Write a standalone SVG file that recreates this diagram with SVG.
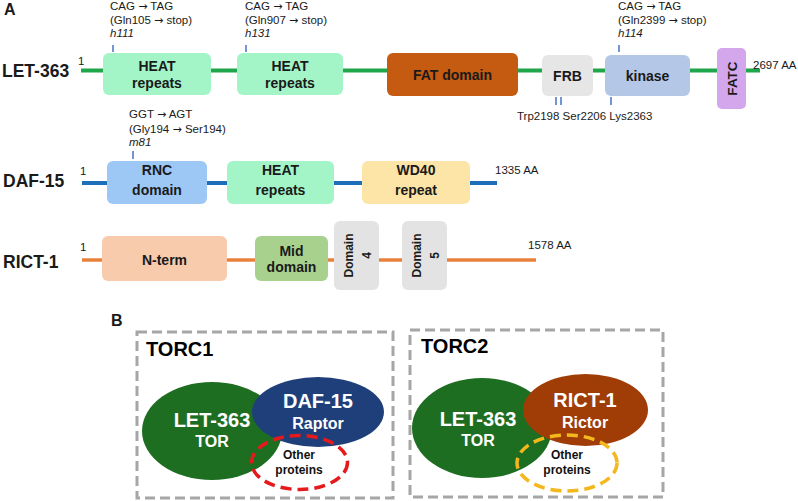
<svg xmlns="http://www.w3.org/2000/svg" width="798" height="501" viewBox="0 0 798 501">
<style>
text{font-family:"Liberation Sans",Arial,Helvetica,sans-serif;fill:#1a1a1a}
.lbl{font-size:17.5px;font-weight:bold}
.sm{font-size:11.5px}
.it{font-style:italic}
.ar{font-family:"DejaVu Sans",sans-serif;font-size:11px}
.dom{font-size:14px;font-weight:bold;text-anchor:middle}
.rot{font-size:12px;font-weight:bold;text-anchor:middle}
.tick{stroke:#4472c4;stroke-width:1.5}
.wt{fill:#fff;font-weight:bold;text-anchor:middle}
.oth{font-size:12px;font-weight:bold;text-anchor:middle;fill:#111}
.box{fill:none;stroke:#a6a6a6;stroke-width:3;stroke-dasharray:10 5}
</style>
<rect width="798" height="501" fill="#fff"/>
<text x="4" y="15" style="font-size:16px;font-weight:bold">A</text>
<text x="111" y="326" style="font-size:16px;font-weight:bold">B</text>

<g id="connectors">
<line x1="81" y1="70.5" x2="760" y2="70.5" stroke="#1fa64a" stroke-width="4"/>
<line x1="82" y1="183" x2="497" y2="183" stroke="#1e6fba" stroke-width="4"/>
<line x1="82" y1="260" x2="536" y2="260" stroke="#e8823b" stroke-width="3.5"/>
</g>

<g id="let363">
<text class="lbl" x="2" y="77">LET-363</text>
<text class="sm" x="78" y="65">1</text>
<text class="sm" x="753" y="69">2697 AA</text>
<rect x="103" y="53" width="108" height="42" rx="6" fill="#a3f5c8"/>
<text class="dom" x="157" y="70.5">HEAT</text><text class="dom" x="157" y="87.5">repeats</text>
<rect x="237" y="53" width="106" height="42" rx="6" fill="#a3f5c8"/>
<text class="dom" x="290" y="70.5">HEAT</text><text class="dom" x="290" y="87.5">repeats</text>
<rect x="387" y="53" width="131" height="43" rx="6" fill="#c55a11"/>
<text class="dom" x="452.5" y="80">FAT domain</text>
<rect x="542" y="55" width="51" height="41" rx="6" fill="#e6e6e6"/>
<text class="dom" x="567.5" y="81">FRB</text>
<rect x="605" y="55" width="85" height="41" rx="6" fill="#b4c7e7"/>
<text class="dom" x="647.5" y="81">kinase</text>
<rect x="717" y="48" width="29" height="61" rx="5" fill="#d4a6ec"/>
<text class="dom" transform="translate(731.5,78.5) rotate(-90)" x="0" y="5" style="font-size:13.5px">FATC</text>
<line class="tick" x1="113" y1="45" x2="113" y2="52"/>
<line class="tick" x1="246" y1="45" x2="246" y2="52"/>
<line class="tick" x1="619" y1="45" x2="619" y2="52"/>
<line class="tick" x1="556" y1="97" x2="556" y2="105"/>
<line class="tick" x1="561" y1="97" x2="561" y2="105"/>
<line class="tick" x1="611" y1="97" x2="611" y2="105"/>
<text class="sm" x="110" y="10">CAG <tspan class="ar">→</tspan> TAG</text>
<text class="sm" x="110" y="24">(Gln105 <tspan class="ar">→</tspan> stop)</text>
<text class="sm it" x="110" y="37">h111</text>
<text class="sm" x="245" y="10">CAG <tspan class="ar">→</tspan> TAG</text>
<text class="sm" x="245" y="24">(Gln907 <tspan class="ar">→</tspan> stop)</text>
<text class="sm it" x="245" y="37">h131</text>
<text class="sm" x="618" y="10">CAG <tspan class="ar">→</tspan> TAG</text>
<text class="sm" x="618" y="24">(Gln2399 <tspan class="ar">→</tspan> stop)</text>
<text class="sm it" x="618" y="37">h114</text>
<text class="sm" x="517" y="120">Trp2198 Ser2206 Lys2363</text>
</g>

<g id="daf15">
<text class="lbl" x="3" y="187">DAF-15</text>
<text class="sm" x="80" y="175">1</text>
<text class="sm" x="495" y="174">1335 AA</text>
<rect x="107" y="161" width="100" height="43" rx="6" fill="#9dc8f6"/>
<text class="dom" x="157" y="175">RNC</text><text class="dom" x="157" y="195">domain</text>
<rect x="227" y="161" width="107" height="43" rx="6" fill="#a3f5c8"/>
<text class="dom" x="280.5" y="175">HEAT</text><text class="dom" x="280.5" y="195">repeats</text>
<rect x="362" y="161" width="108" height="43" rx="6" fill="#fde4a7"/>
<text class="dom" x="416" y="175">WD40</text><text class="dom" x="416" y="195">repeat</text>
<line class="tick" x1="133" y1="151" x2="133" y2="159"/>
<text class="sm" x="129" y="118">GGT <tspan class="ar">→</tspan> AGT</text>
<text class="sm" x="129" y="132.5">(Gly194 <tspan class="ar">→</tspan> Ser194)</text>
<text class="sm it" x="129" y="145.5">m81</text>
</g>

<g id="rict1">
<text class="lbl" x="3" y="268">RICT-1</text>
<text class="sm" x="80" y="251">1</text>
<text class="sm" x="528" y="249">1578 AA</text>
<rect x="102" y="236" width="125" height="45" rx="6" fill="#f8cbad"/>
<text class="dom" x="164.5" y="265">N-term</text>
<rect x="255" y="236" width="73" height="45" rx="6" fill="#a9d18e"/>
<text class="dom" x="291.5" y="256">Mid</text><text class="dom" x="291.5" y="272">domain</text>
<rect x="334" y="221" width="45" height="69" rx="6" fill="#e3e3e3"/>
<text class="rot" transform="translate(356.5,255.5) rotate(-90)"><tspan x="0" y="-4">Domain</tspan><tspan x="0" y="14.5">4</tspan></text>
<rect x="402" y="221" width="45" height="69" rx="6" fill="#e3e3e3"/>
<text class="rot" transform="translate(424.5,255.5) rotate(-90)"><tspan x="0" y="-4">Domain</tspan><tspan x="0" y="14.5">5</tspan></text>
</g>

<g id="torc1">
<rect class="box" x="137" y="332" width="256" height="166"/>
<text x="146" y="356" style="font-size:20px;font-weight:bold;fill:#000">TORC1</text>
<ellipse cx="212" cy="431" rx="70" ry="49" fill="#1e6e22"/>
<ellipse cx="318" cy="412" rx="66" ry="35" fill="#1f3f7a"/>
<ellipse cx="299.5" cy="462.5" rx="48" ry="27" fill="none" stroke="#e41a1c" stroke-width="3.5" stroke-dasharray="11 6"/>
<text class="wt" x="212" y="427" style="font-size:20px">LET-363</text>
<text class="wt" x="212" y="447" style="font-size:16px">TOR</text>
<text class="wt" x="318" y="408" style="font-size:20px">DAF-15</text>
<text class="wt" x="318" y="429" style="font-size:16px">Raptor</text>
<text class="oth" x="299" y="459">Other</text>
<text class="oth" x="299" y="474">proteins</text>
</g>

<g id="torc2">
<rect class="box" x="410" y="330" width="253" height="167"/>
<text x="421" y="353" style="font-size:20px;font-weight:bold;fill:#000">TORC2</text>
<ellipse cx="482" cy="428" rx="70" ry="50" fill="#1e6e22"/>
<ellipse cx="585.5" cy="410" rx="62.5" ry="36" fill="#a03c05"/>
<ellipse cx="567" cy="463" rx="50" ry="28" fill="none" stroke="#f5b81c" stroke-width="3.5" stroke-dasharray="11 6"/>
<text class="wt" x="478" y="426" style="font-size:20px">LET-363</text>
<text class="wt" x="478" y="446" style="font-size:16px">TOR</text>
<text class="wt" x="585" y="407" style="font-size:20px">RICT-1</text>
<text class="wt" x="585" y="428" style="font-size:16px">Rictor</text>
<text class="oth" x="567" y="459">Other</text>
<text class="oth" x="567" y="474">proteins</text>
</g>
</svg>
